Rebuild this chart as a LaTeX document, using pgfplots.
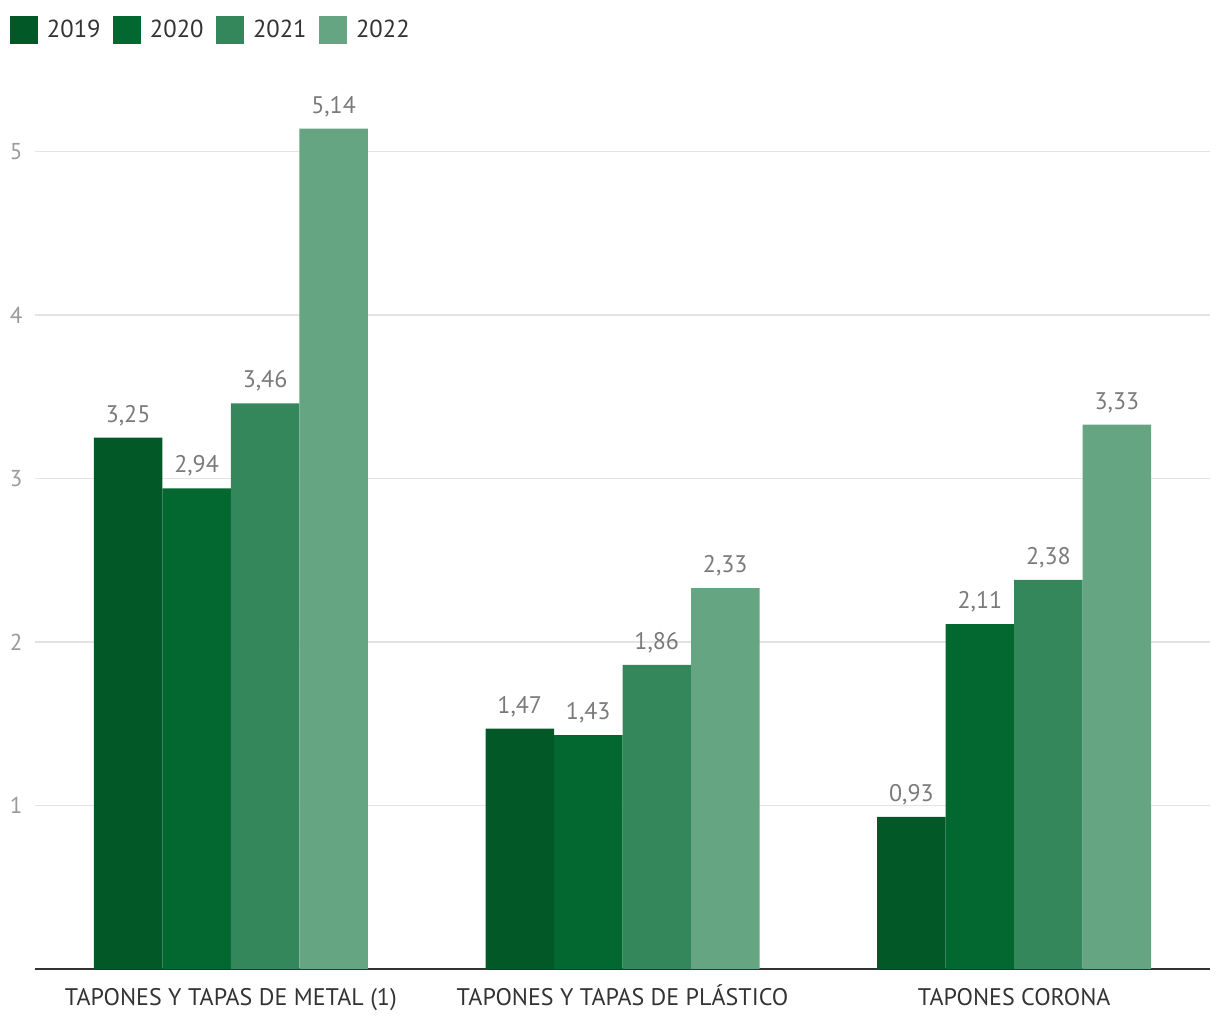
\documentclass[border=0pt]{standalone}
\usepackage{fontspec}
\setmainfont{PT Sans}
\usepackage{pgfplots}
\pgfplotsset{compat=1.18}
\definecolor{cA}{HTML}{035827}
\definecolor{cB}{HTML}{036830}
\definecolor{cC}{HTML}{34875A}
\definecolor{cD}{HTML}{66A582}
\definecolor{gridc}{HTML}{E3E3E3}
\definecolor{axc}{HTML}{333333}
\definecolor{tickc}{HTML}{9A9A9A}
\definecolor{labc}{HTML}{7A7A7A}
\begin{document}
\begin{tikzpicture}
\useasboundingbox (-17.5pt,-25.5pt) rectangle (592.5pt,484.5pt);
\begin{axis}[
  at={(0,0)}, anchor=south west,
  scale only axis,
  width=587.5pt, height=457.8pt,
  xmin=-0.5, xmax=2.5, ymin=0, ymax=5.6,
  ybar=0pt, bar width=34.25pt,
  xtick={0,1,2},
  xticklabels={TAPONES Y TAPAS DE METAL (1), TAPONES Y TAPAS DE PLÁSTICO, TAPONES CORONA},
  ytick={1,2,3,4,5},
  major tick length=0pt,
  ymajorgrids,
  grid style={draw=gridc, line width=0.75pt},
  axis x line*=bottom, axis y line*=left,
  y axis line style={draw=none},
  x axis line style={draw=axc, line width=1pt, -},
  xticklabel style={font=\fontsize{12}{14}\selectfont, text=axc, anchor=north, inner sep=0pt, text height=8.4pt, yshift=-9.5pt},
  yticklabel style={font=\fontsize{11.5}{13}\selectfont, text=tickc, anchor=east, xshift=-2.7pt},
  /pgf/number format/assume math mode=true,
  nodes near coords,
  nodes near coords style={font=\fontsize{12}{14}\selectfont, text=labc, anchor=south, inner sep=0pt, text depth=0pt, yshift=7.5pt,
    /pgf/number format/.cd, fixed, fixed zerofill, precision=2, use comma, assume math mode=true},
  legend columns=4,
  legend image code/.code={\fill[#1] (0pt,-7pt) rectangle (14pt,7pt);},
  legend style={draw=none, fill=none, inner sep=0pt, outer sep=0pt,
    at={(axis description cs:-0.0213,1.041)}, anchor=north west,
    font=\fontsize{12.3}{14}\selectfont, text=axc,
    nodes={inner sep=0pt, anchor=west},
    /tikz/every odd column/.append style={column sep=4.5pt},
    /tikz/every even column/.append style={column sep=6.2pt}},
  clip=false,
  axis on top=false,
]
\addplot[fill=cA, draw=none] coordinates {(0,3.25) (1,1.47) (2,0.93)};
\addplot[fill=cB, draw=none] coordinates {(0,2.94) (1,1.43) (2,2.11)};
\addplot[fill=cC, draw=none] coordinates {(0,3.46) (1,1.86) (2,2.38)};
\addplot[fill=cD, draw=none] coordinates {(0,5.14) (1,2.33) (2,3.33)};
\legend{2019,2020,2021,2022}
\end{axis}
\end{tikzpicture}
\end{document}
